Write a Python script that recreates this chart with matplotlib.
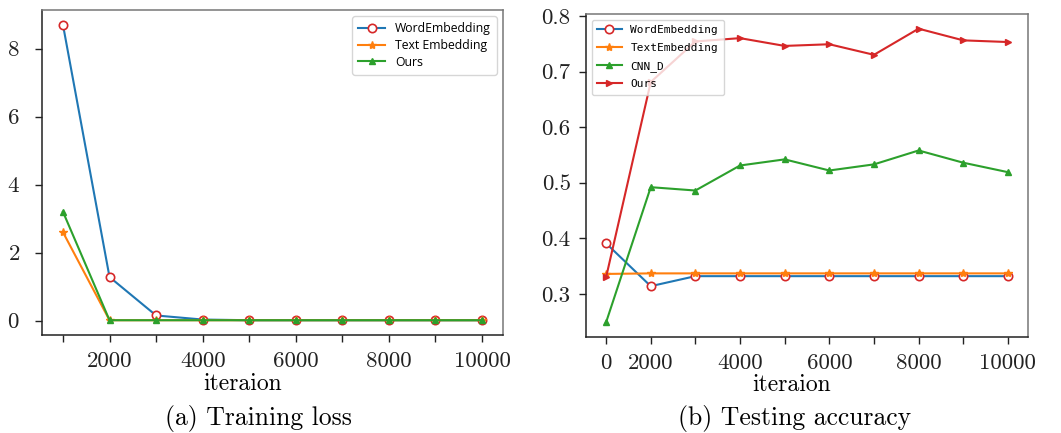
import numpy as np
import matplotlib
matplotlib.use('Agg')
import matplotlib.pyplot as plt

plt.rcParams['font.family'] = 'serif'
plt.rcParams['font.serif'] = ['cmr10', 'DejaVu Serif']
plt.rcParams['axes.formatter.use_mathtext'] = True

# iterations
iters = [1000, 2000, 3000, 4000, 5000, 6000, 7000, 8000, 9000, 10000]

# (a) training loss
loss_word = [8.7, 1.28, 0.15, 0.03, 0.01, 0.01, 0.01, 0.01, 0.01, 0.01]
loss_text = [2.6, 0.01, 0.01, 0.01, 0.01, 0.01, 0.01, 0.01, 0.01, 0.01]
loss_ours = [3.2, 0.01, 0.01, 0.01, 0.01, 0.01, 0.01, 0.01, 0.01, 0.01]
labels_a = ['', '2000', '', '4000', '', '6000', '', '8000', '', '10000']

# (b) testing accuracy
acc_word = [0.391, 0.314, 0.332, 0.332, 0.332, 0.332, 0.332, 0.332, 0.332, 0.332]
acc_text = [0.336, 0.337, 0.337, 0.337, 0.337, 0.337, 0.337, 0.337, 0.337, 0.337]
acc_cnn = [0.249, 0.492, 0.486, 0.531, 0.542, 0.522, 0.533, 0.558, 0.536, 0.519]
acc_ours = [0.330, 0.681, 0.754, 0.760, 0.746, 0.749, 0.730, 0.777, 0.756, 0.753]
labels_b = ['0', '2000', '', '4000', '', '6000', '', '8000', '', '10000']

fig = plt.figure(figsize=(10.61, 4.33), dpi=100)
ax1 = fig.add_axes([42/1061, 1-335/433, 461/1061, 325/433])
ax2 = fig.add_axes([586/1061, 1-337/433, 442/1061, 323/433])

blue, orange, green, red = '#1f77b4', '#ff7f0e', '#2ca02c', '#d62728'
ms = 5

ax1.plot(iters, loss_word, color=blue, marker='o', mfc='white', mec=red, mew=1.2, ms=ms+1, lw=1.5, label='WordEmbedding')
ax1.plot(iters, loss_text, color=orange, marker='*', ms=ms+1, lw=1.5, label='Text Embedding')
ax1.plot(iters, loss_ours, color=green, marker='^', ms=ms, lw=1.5, label='Ours')
ax1.set_yticks([0, 2, 4, 6, 8])

ax2.plot(iters, acc_word, color=blue, marker='o', mfc='white', mec=red, mew=1.2, ms=ms+1, lw=1.5, label='WordEmbedding')
ax2.plot(iters, acc_text, color=orange, marker='*', ms=ms+1, lw=1.5, label='TextEmbedding')
ax2.plot(iters, acc_cnn, color=green, marker='^', ms=ms, lw=1.5, label='CNN_D')
ax2.plot(iters, acc_ours, color=red, marker='>', ms=ms, lw=1.5, label='Ours')
ax2.set_yticks([0.3, 0.4, 0.5, 0.6, 0.7, 0.8])
ax2.set_yticklabels(['0.3', '0.4', '0.5', '0.6', '0.7', '0.8'])

for ax, labs, xl in [(ax1, labels_a, 0.436), (ax2, labels_b, 0.466)]:
    ax.set_xticks(iters)
    ax.set_xticklabels(labs)
    ax.tick_params(labelsize=16.5, colors='#222222', length=5, width=1)
    ax.tick_params(axis='x', pad=7)
    ax.set_xlabel('iteraion', fontsize=17)
    ax.xaxis.set_label_coords(xl, -0.115)
    for s in ['left', 'bottom']:
        ax.spines[s].set_color('#222222')
        ax.spines[s].set_linewidth(1.1)
    for s in ['top', 'right']:
        ax.spines[s].set_color('#777777')
        ax.spines[s].set_linewidth(1.1)
ax1.tick_params(axis='y', pad=11)
ax2.tick_params(axis='y', pad=6)

ax1.legend(loc='upper right', prop={'family': 'Open Sans', 'size': 8.8},
           handlelength=2.2, borderpad=0.5, labelspacing=0.3)
ax2.legend(loc='upper left', prop={'family': 'DejaVu Sans Mono', 'size': 8},
           handlelength=2.2, borderpad=0.5, labelspacing=0.7)

fig.text(258/1061, 1-418/433, '(a) Training loss', ha='center', va='center', fontsize=18.5)
fig.text(795/1061, 1-418/433, '(b) Testing accuracy', ha='center', va='center', fontsize=18.5)

fig.savefig('out.png', dpi=100)
